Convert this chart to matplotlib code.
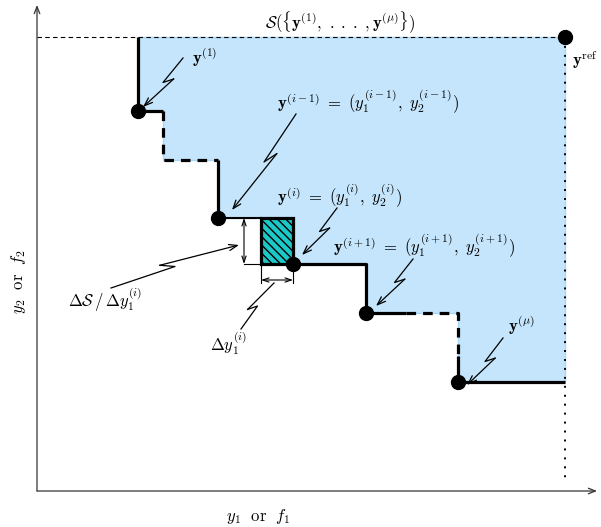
import numpy as np
import matplotlib
matplotlib.use("Agg")
import matplotlib.pyplot as plt
from matplotlib.patches import Polygon, Rectangle

plt.rcParams['mathtext.fontset'] = 'cm'
plt.rcParams['hatch.linewidth'] = 1.0

# non-dominated points (y1, y2), the reference point and the step of y(i)
pts_x = [101, 126, 181, 256, 329, 421]
pts_y = [380, 331, 273, 227, 178, 109]
shown = [True, False, True, True, True, True]   # the 2nd point is only hinted by dashes
ref_x, ref_y = 528, 454
i_idx = 3
delta_y1 = 32

fig = plt.figure(figsize=(6.01, 5.27), dpi=100)
ax = fig.add_axes([0, 0, 1, 1])
ax.set_xlim(-37, 564)
ax.set_ylim(-36, 491)
ax.axis('off')

# staircase of the dominated region
stair = [(pts_x[0], ref_y), (pts_x[0], pts_y[0])]
for k in range(len(pts_x) - 1):
    stair.append((pts_x[k + 1], pts_y[k]))
    stair.append((pts_x[k + 1], pts_y[k + 1]))
stair.append((ref_x, pts_y[-1]))
region = Polygon(stair + [(ref_x, ref_y)], closed=True, facecolor='#c4e5fb',
                 edgecolor='#a8d8f7', lw=1, zorder=1)
ax.add_patch(region)

# the box that y(i) adds when moved left by delta_y1
xi, yi = pts_x[i_idx], pts_y[i_idx]
yprev = pts_y[i_idx - 1]
ax.add_patch(Rectangle((xi - delta_y1, yi), delta_y1, yprev - yi,
                       facecolor='#1cc8c8', edgecolor='black', hatch='\\\\\\\\',
                       lw=2.3, zorder=3))

thick = dict(color='black', lw=2.3, solid_capstyle='butt', zorder=4)
dash = dict(color='black', lw=2.3, ls=(0, (3, 2.2)), zorder=4)

# boundary, solid and dashed parts
ax.plot([pts_x[0], pts_x[0]], [ref_y, pts_y[0]], **thick)
ax.plot([pts_x[0], pts_x[1]], [pts_y[0], pts_y[0]], **thick)
ax.plot([pts_x[1], pts_x[1], pts_x[2]], [pts_y[0], pts_y[1], pts_y[1]], **dash)
ax.plot([pts_x[2], pts_x[2]], [pts_y[1], pts_y[2]], **thick)
ax.plot([pts_x[2], xi - delta_y1], [pts_y[2], pts_y[2]], color='black', lw=1.5, zorder=4)
ax.plot([xi, pts_x[4], pts_x[4]], [yi, yi, pts_y[4]], **thick)
x_mid = pts_x[4] + 40
ax.plot([pts_x[4], x_mid], [pts_y[4], pts_y[4]], **thick)
ax.plot([x_mid, pts_x[5], pts_x[5]], [pts_y[4], pts_y[4], pts_y[5] + 26], **dash)
ax.plot([pts_x[5], pts_x[5]], [pts_y[5] + 26, pts_y[5]], **thick)
ax.plot([pts_x[5], ref_x], [pts_y[5], pts_y[5]], **thick)

# reference point lines
ax.plot([0, ref_x], [ref_y, ref_y], color='black', lw=0.8, ls=(0, (4, 3)), zorder=2)
ax.plot([ref_x, ref_x], [ref_y, 12], color='black', lw=1.4, ls=(0, (1, 3.6)), zorder=4)

# points
px = [x for x, s in zip(pts_x, shown) if s]
py = [y for y, s in zip(pts_y, shown) if s]
ax.plot(px, py, 'o', color='black', ms=10, zorder=6)
ax.plot([ref_x], [ref_y], 'o', color='black', ms=10, zorder=6)

# axes with arrows
arr = dict(arrowstyle='->,head_length=0.5,head_width=0.2', lw=0.9, color='#333333',
           shrinkA=0, shrinkB=0)
ax.annotate('', xy=(0, 486), xytext=(0, 0), arrowprops=arr)
ax.annotate('', xy=(560, 0), xytext=(0, 0), arrowprops=arr)

# measurement arrows
thin = dict(color='black', lw=0.8, zorder=4)
dbl = dict(arrowstyle='<->,head_length=0.45,head_width=0.15', lw=0.8, color='black',
           shrinkA=0, shrinkB=0)
ax.plot([207, xi - delta_y1], [yi, yi], **thin)
ax.annotate('', xy=(207, yprev), xytext=(207, yi), arrowprops=dbl)
ax.plot([xi - delta_y1, xi - delta_y1], [yi, 208], **thin)
ax.plot([xi, xi], [yi, 208], **thin)
ax.annotate('', xy=(xi - delta_y1, 211), xytext=(xi, 211), arrowprops=dbl)


def bolt(s, e, head=True):
    s, e = np.array(s, float), np.array(e, float)
    v = e - s
    L = np.hypot(*v)
    d = v / L
    n = np.array([-d[1], d[0]])
    a = s + 0.5 * v
    b = a - min(0.15 * L, 14) * d + 6 * n
    ax.plot([s[0], a[0], b[0]], [s[1], a[1], b[1]], color='black', lw=0.9, zorder=5)
    if head:
        ax.annotate('', xy=e, xytext=b,
                    arrowprops=dict(arrowstyle='->,head_length=0.6,head_width=0.22',
                                    lw=0.9, color='black', shrinkA=0, shrinkB=0),
                    zorder=5)
    else:
        ax.plot([b[0], e[0]], [b[1], e[1]], color='black', lw=0.9, zorder=5)


bolt((146, 433), (106, 384))
bolt((259, 377), (195, 281))
bolt((300, 283), (265, 236))
bolt((376, 232), (339, 185))
bolt((466, 153), (430, 106))
bolt((74, 203), (202, 246))
bolt((204, 162), (237, 208), head=False)

fs = 12
ax.text(303, 469, r'$\mathcal{S}(\{\mathbf{y}^{(1)},\ .\;.\;.\ ,\mathbf{y}^{(\mu)}\})$',
        ha='center', va='center', fontsize=fs)
ax.text(155, 434, r'$\mathbf{y}^{(1)}$', va='center', fontsize=fs)
ax.text(240, 389, r'$\mathbf{y}^{(i-1)}\ =\ (y_1^{(i-1)},\ y_2^{(i-1)})$', va='center', fontsize=fs)
ax.text(240, 295, r'$\mathbf{y}^{(i)}\ =\ (y_1^{(i)},\ y_2^{(i)})$', va='center', fontsize=fs)
ax.text(296, 245, r'$\mathbf{y}^{(i+1)}\ =\ (y_1^{(i+1)},\ y_2^{(i+1)})$', va='center', fontsize=fs)
ax.text(471, 166, r'$\mathbf{y}^{(\mu)}$', va='center', fontsize=fs)
ax.text(535, 431, r'$\mathbf{y}^{\mathrm{ref}}$', va='center', fontsize=fs)
ax.text(31, 191, r'$\Delta\mathcal{S}\,/\,\Delta y_1^{(i)}$', va='center', fontsize=fs)
ax.text(173, 148, r'$\Delta y_1^{(i)}$', va='center', fontsize=fs)
ax.text(221, -26, r'$y_1\ \ \mathrm{or}\ \ f_1$', ha='center', va='center', fontsize=fs)
ax.text(-19, 209, r'$y_2\ \ \mathrm{or}\ \ f_2$', ha='center', va='center', fontsize=fs,
        rotation=90)

fig.savefig('out.png', dpi=100)
